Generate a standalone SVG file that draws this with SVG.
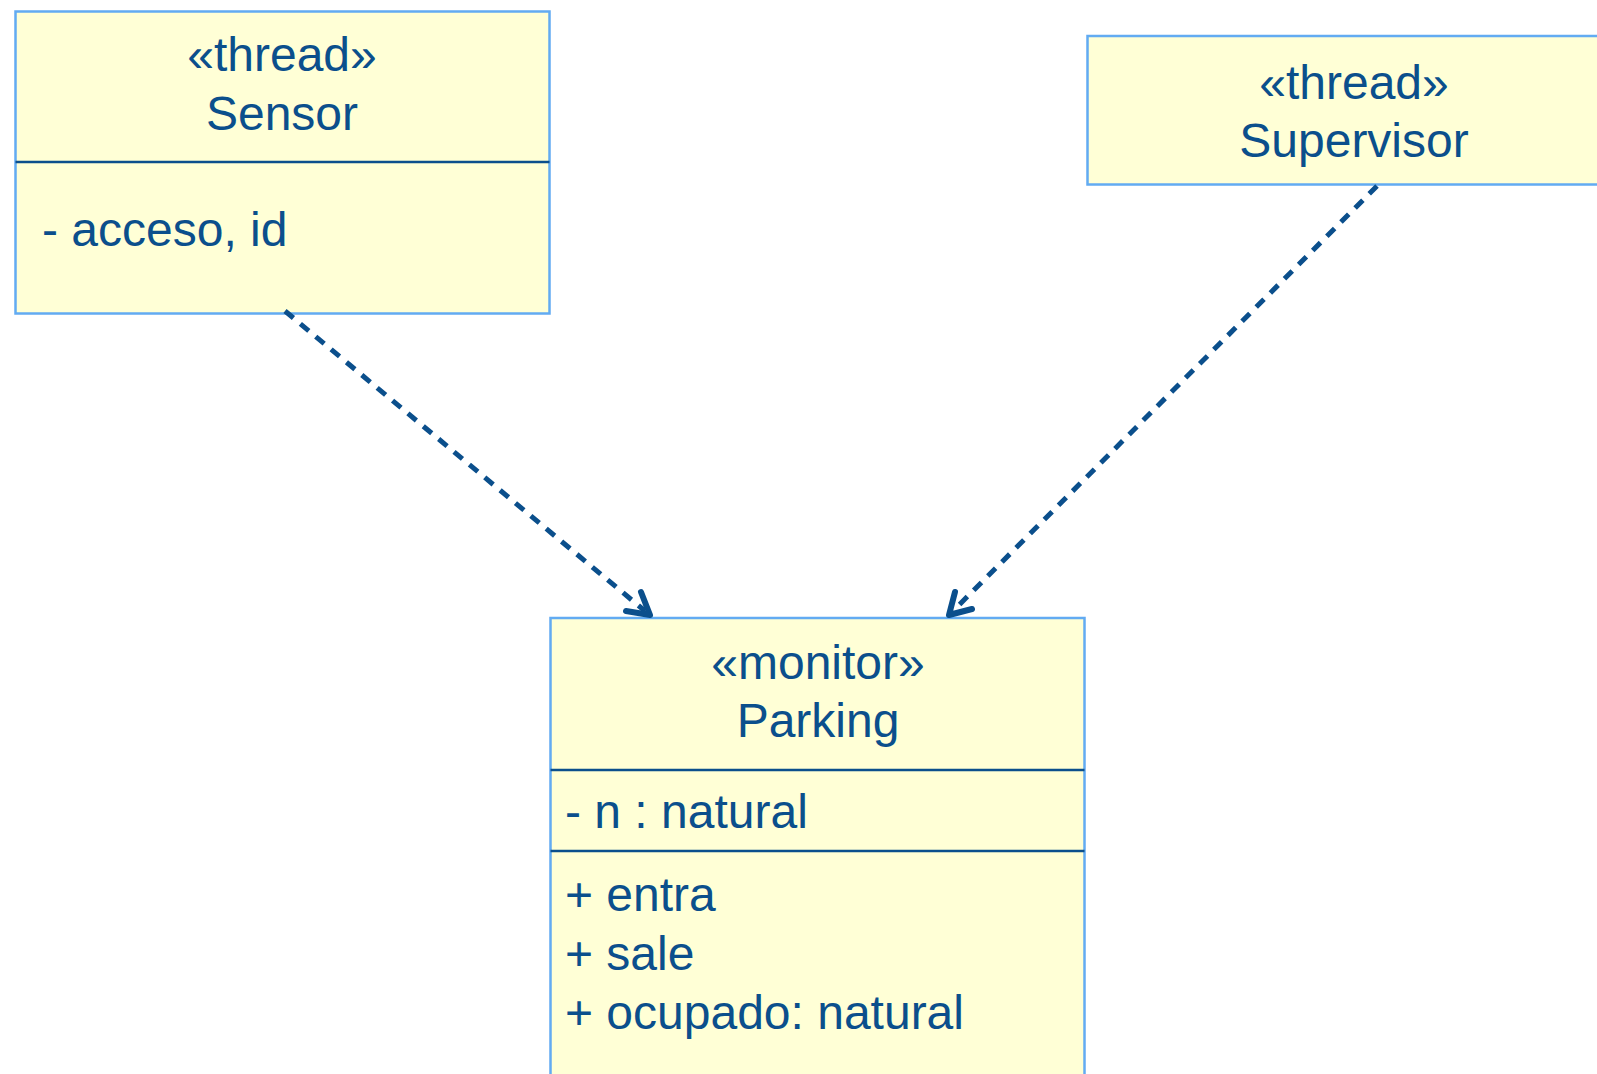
<svg xmlns="http://www.w3.org/2000/svg" width="1597" height="1074" viewBox="0 0 1597 1074">
<defs>
<style>
.box{fill:#ffffd6;stroke:#62abf2;stroke-width:2.5}
.div{stroke:#0b4f8c;stroke-width:2.5}
.t{font-family:"Liberation Sans",Arial,sans-serif;font-size:48px;fill:#0b4f8c}
.c{text-anchor:middle}
.dep{fill:none;stroke:#0b4f8c;stroke-width:5;stroke-dasharray:11 9}
.head{fill:none;stroke:#0b4f8c;stroke-width:6;stroke-linecap:round;stroke-linejoin:round}
</style>
</defs>
<rect width="1597" height="1074" fill="#ffffff"/>
<g id="Sensor">
<rect class="box" x="15.5" y="11.5" width="534" height="302"/>
<line class="div" x1="15.5" y1="162" x2="549.5" y2="162"/>
<text class="t c" x="282" y="71">«thread»</text>
<text class="t c" x="282" y="130">Sensor</text>
<text class="t" x="42" y="246">- acceso, id</text>
</g>
<g id="Supervisor">
<rect class="box" x="1087.5" y="36" width="530" height="148.5"/>
<text class="t c" x="1354" y="99">«thread»</text>
<text class="t c" x="1354" y="157">Supervisor</text>
</g>
<g id="Parking">
<rect class="box" x="550.5" y="618" width="534" height="480"/>
<line class="div" x1="550.5" y1="770" x2="1084.5" y2="770"/>
<line class="div" x1="550.5" y1="851" x2="1084.5" y2="851"/>
<text class="t c" x="818" y="679">«monitor»</text>
<text class="t c" x="818" y="737">Parking</text>
<text class="t" x="565" y="828">- n : natural</text>
<text class="t" x="565" y="911">+ entra</text>
<text class="t" x="565" y="970">+ sale</text>
<text class="t" x="565" y="1029">+ ocupado: natural</text>
</g>
<g id="connectors">
<line class="dep" x1="285" y1="311" x2="645" y2="611"/>
<polyline class="head" points="641,592 650,615 626,611"/>
<line class="dep" x1="1377" y1="186" x2="953" y2="611"/>
<polyline class="head" points="955,592 949,615 972,609"/>
</g>
</svg>
